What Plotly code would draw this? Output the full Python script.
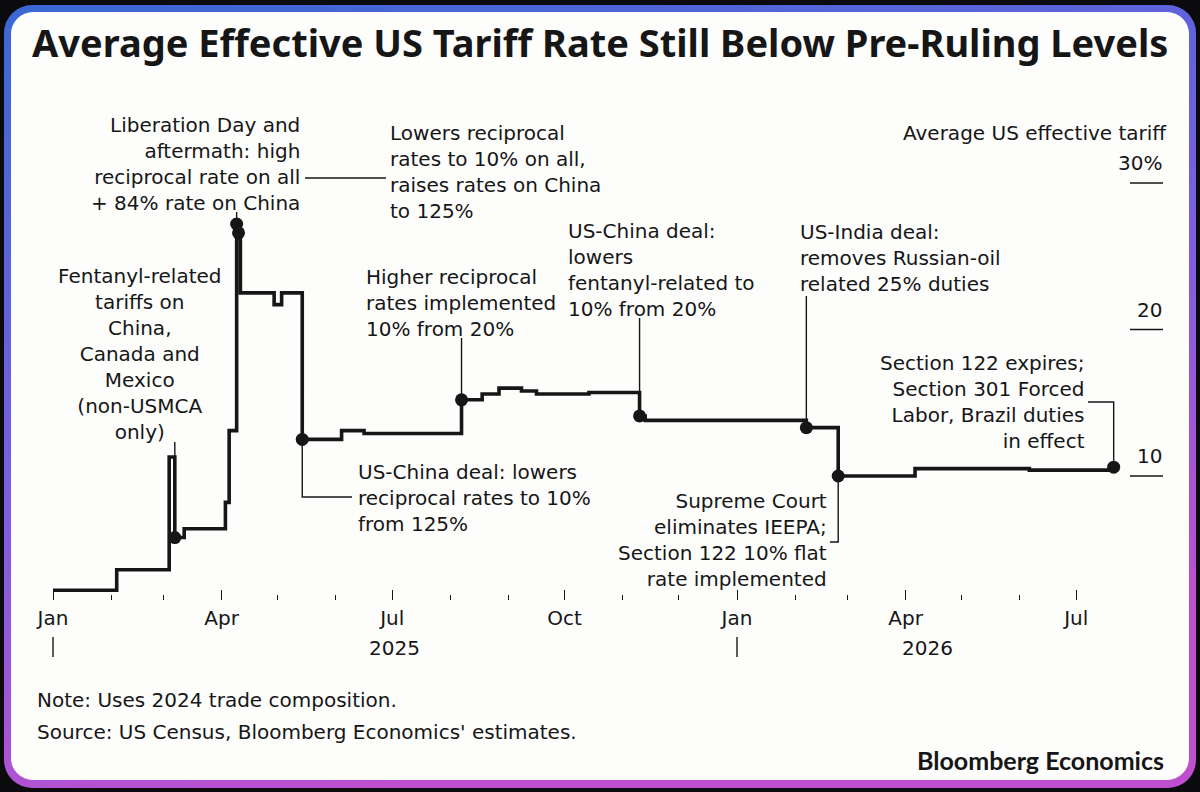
import base64
import datetime as dt
import plotly.graph_objects as go

# ---------------- data ----------------
step_dates = ["2025-01-01", "2025-02-04", "2025-03-04", "2025-03-07", "2025-03-12",
              "2025-04-03", "2025-04-05", "2025-04-09", "2025-04-10", "2025-04-11",
              "2025-04-29", "2025-05-03", "2025-05-14", "2025-06-04", "2025-06-16",
              "2025-08-07", "2025-08-18", "2025-08-27", "2025-09-08", "2025-09-16",
              "2025-10-14", "2025-11-10", "2025-11-13", "2026-02-07", "2026-02-24",
              "2026-04-06", "2026-06-06", "2026-07-21"]
step_values = [2.2, 3.6, 11.3, 5.8, 6.4,
               8.2, 13.1, 27.2, 26.6, 22.5,
               21.7, 22.5, 12.5, 13.1, 12.9,
               15.2, 15.6, 16.0, 15.8, 15.6,
               15.7, 14.1, 13.8, 13.3, 10.0,
               10.5, 10.4, 10.6]

event_dates = ["2025-03-07", "2025-04-09", "2025-04-10", "2025-05-14", "2025-08-07",
               "2025-11-10", "2026-02-07", "2026-02-24", "2026-07-21"]
event_values = [5.8, 27.2, 26.6, 12.5, 15.2, 14.1, 13.3, 10.0, 10.6]

tick_dates = ["2025-01-01", "2025-04-01", "2025-07-01", "2025-10-01",
              "2026-01-01", "2026-04-01", "2026-07-01"]
tick_text = ["Jan", "Apr", "Jul", "Oct", "Jan", "Apr", "Jul"]
year_labels = ["2025", "2026"]
y_label_values = [30, 20, 10]
y_label_text = ["30%", "20", "10"]

# ---------------- layout geometry (pixels) ----------------
W, H = 1200, 792
L, R, T, B = 40, 75, 100, 192
PW, PH = W - L - R, H - T - B
X_JAN = 53.0          # pixel of 2025-01-01
PX_PER_DAY = 1.874
Y_ZERO = 622.5        # pixel of 0%
PX_PER_PCT = 14.65
D0 = dt.datetime(2025, 1, 1)


def px2date(px):
    return (D0 + dt.timedelta(days=(px - X_JAN) / PX_PER_DAY)).strftime("%Y-%m-%d %H:%M")


def py2val(py):
    return (Y_ZERO - py) / PX_PER_PCT


def xp(px):
    return (px - L) / PW


def yp(py):
    return (T + PH - py) / PH


INK = "#161616"
FONT = "DejaVu Sans"
FS = 20

fig = go.Figure()

# leader lines
leaders = [
    ([event_dates[0], event_dates[0]], [event_values[0], py2val(442)]),
    ([event_dates[1], event_dates[1]], [event_values[1], py2val(212)]),
    ([px2date(305), px2date(386)], [py2val(178), py2val(178)]),
    ([event_dates[3], event_dates[3], px2date(352)], [event_values[3], py2val(497), py2val(497)]),
    ([event_dates[4], event_dates[4]], [event_values[4], py2val(338)]),
    ([event_dates[5], event_dates[5]], [event_values[5], py2val(318)]),
    ([event_dates[6], event_dates[6]], [event_values[6], py2val(296)]),
    ([event_dates[7], event_dates[7], px2date(830)], [event_values[7], py2val(542), py2val(542)]),
    ([event_dates[8], event_dates[8], px2date(1088)], [event_values[8], py2val(402), py2val(402)]),
]
for lx, ly in leaders:
    fig.add_trace(go.Scatter(x=lx, y=ly, mode="lines", line=dict(color=INK, width=1.4),
                             hoverinfo="skip", showlegend=False, cliponaxis=False))

fig.add_trace(go.Scatter(x=step_dates, y=step_values, mode="lines",
                         line=dict(color=INK, width=3.6, shape="hv"),
                         hoverinfo="skip", showlegend=False, cliponaxis=False))
fig.add_trace(go.Scatter(x=event_dates, y=event_values, mode="markers",
                         marker=dict(color=INK, size=13),
                         hoverinfo="skip", showlegend=False, cliponaxis=False))

# background card with gradient border
svg = f"""<svg xmlns='http://www.w3.org/2000/svg' width='{W}' height='{H}' viewBox='0 0 {W} {H}'>
<defs><linearGradient id='g' x1='0' y1='0' x2='0.35' y2='1'>
<stop offset='0' stop-color='#3a68d4'/><stop offset='0.55' stop-color='#7a5fe2'/>
<stop offset='1' stop-color='#c04fcf'/></linearGradient></defs>
<rect width='{W}' height='{H}' fill='#0b0b0d'/>
<rect x='4' y='5' width='{W-8}' height='{H-9}' rx='28' ry='28' fill='url(#g)'/>
<rect x='11' y='12' width='{W-22}' height='{H-24}' rx='22' ry='22' fill='#fdfdfc'/>
</svg>"""
src = "data:image/svg+xml;base64," + base64.b64encode(svg.encode()).decode()

annotations = []


def ann(text, px, py, xanchor="left", yanchor="middle", align="left", size=FS, family=FONT, color=INK, **kw):
    annotations.append(dict(text=text, x=xp(px), y=yp(py), xref="paper", yref="paper",
                            xanchor=xanchor, yanchor=yanchor, align=align, showarrow=False,
                            font=dict(family=family, size=size, color=color), **kw))


ann("<b>Average Effective US Tariff Rate Still Below Pre-Ruling Levels</b>", 600, 42,
    xanchor="center", size=38, family="Noto Sans")
ann("Liberation Day and<br>aftermath: high<br>reciprocal rate on all<br>+ 84% rate on China",
    302, 164, xanchor="right", align="right")
ann("Lowers reciprocal<br>rates to 10% on all,<br>raises rates on China<br>to 125%", 388, 172)
ann("Fentanyl-related<br>tariffs on<br>China,<br>Canada and<br>Mexico<br>(non-USMCA<br>only)",
    140, 354, xanchor="center", align="center")
ann("Higher reciprocal<br>rates implemented<br>10% from 20%", 364, 303)
ann("US-China deal:<br>lowers<br>fentanyl-related to<br>10% from 20%", 566, 270)
ann("US-India deal:<br>removes Russian-oil<br>related 25% duties", 798, 258)
ann("Section 122 expires;<br>Section 301 Forced<br>Labor, Brazil duties<br>in effect",
    1087, 402, xanchor="right", align="right")
ann("Supreme Court<br>eliminates IEEPA;<br>Section 122 10% flat<br>rate implemented",
    829, 540, xanchor="right", align="right")
ann("US-China deal: lowers<br>reciprocal rates to 10%<br>from 125%", 356, 498)
ann("Average US effective tariff", 1169, 133, xanchor="right", align="right")
ann("Note: Uses 2024 trade composition.", 35, 700)
ann("Source: US Census, Bloomberg Economics' estimates.", 35, 732)
ann("<b>Bloomberg Economics</b>", 1166, 760, xanchor="right", size=25, family="Lato")

# right-hand value labels
for v, t in zip(y_label_values, y_label_text):
    annotations.append(dict(text=t, x=xp(1164), y=v, xref="paper", yref="y",
                            xanchor="right", yanchor="middle", yshift=20, showarrow=False,
                            font=dict(family=FONT, size=FS, color=INK)))

# year labels
for d, t in zip([px2date(394), px2date(927)], year_labels):
    annotations.append(dict(text=t, x=d, y=yp(648), xref="x", yref="paper",
                            xanchor="center", yanchor="middle", showarrow=False,
                            font=dict(family=FONT, size=FS, color=INK)))

shapes = []
for v in y_label_values:
    shapes.append(dict(type="line", xref="paper", yref="y", x0=xp(1130), x1=xp(1163),
                       y0=v, y1=v, line=dict(color=INK, width=1.4)))
for d in ["2025-01-01", "2026-01-01"]:
    shapes.append(dict(type="line", xref="x", yref="paper", x0=d, x1=d,
                       y0=yp(637), y1=yp(657), line=dict(color=INK, width=1.4)))

fig.update_layout(
    width=W, height=H,
    margin=dict(l=L, r=R, t=T, b=B),
    paper_bgcolor="#fdfdfc", plot_bgcolor="rgba(0,0,0,0)",
    images=[dict(source=src, xref="paper", yref="paper", x=-L / PW, y=1 + T / PH,
                 sizex=W / PW, sizey=H / PH, xanchor="left", yanchor="top",
                 sizing="stretch", layer="below")],
    annotations=annotations, shapes=shapes,
    showlegend=False,
    xaxis=dict(type="date", range=[px2date(L), px2date(W - R)],
               tickvals=tick_dates, ticktext=tick_text,
               ticks="inside", ticklen=10, tickwidth=1.4, tickcolor=INK,
               ticklabelstandoff=4,
               minor=dict(ticks="inside", ticklen=5, tickwidth=1.2, tickcolor=INK,
                          dtick="M1", tick0="2025-01-01", showgrid=False),
               showgrid=False, zeroline=False, showline=False,
               tickfont=dict(family=FONT, size=FS, color=INK), fixedrange=True),
    yaxis=dict(range=[py2val(T + PH), py2val(T)], showgrid=False, zeroline=False,
               showline=False, showticklabels=False, ticks="", fixedrange=True),
)

fig.write_html("out.html")
